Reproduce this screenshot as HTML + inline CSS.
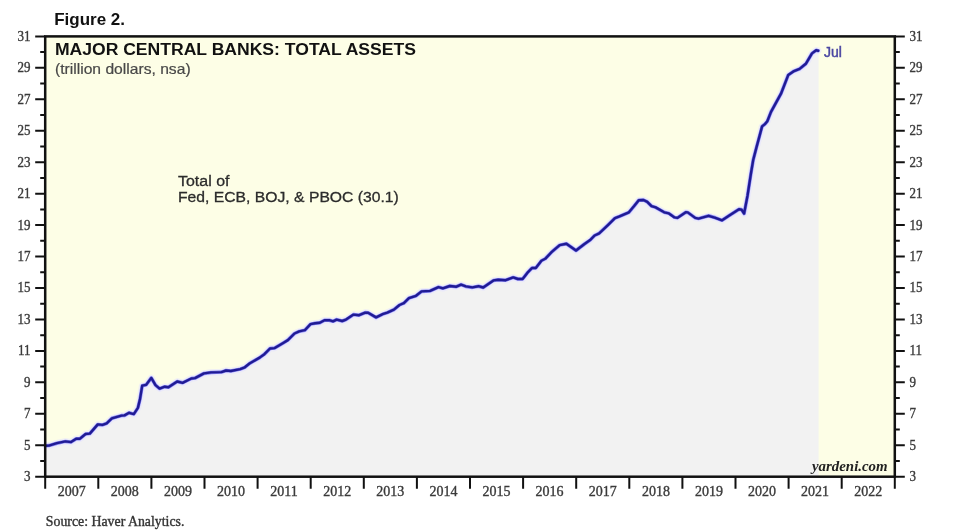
<!DOCTYPE html>
<html><head><meta charset="utf-8"><style>
html,body{margin:0;padding:0;background:#fff;width:960px;height:532px;overflow:hidden}
svg{display:block;filter:blur(0.65px)}
.sans{font-family:"Liberation Sans",sans-serif}
.serif{font-family:"Liberation Serif",serif}
</style></head><body>
<svg width="960" height="532" viewBox="0 0 960 532">
<rect x="0" y="0" width="960" height="532" fill="#fff"/>
<text class="sans" x="54.2" y="24.7" font-size="15.7" font-weight="bold" fill="#111" textLength="70.8" lengthAdjust="spacingAndGlyphs">Figure 2.</text>
<rect x="45.2" y="36.4" width="849.5999999999999" height="440.3" fill="#fdfee6"/>
<polygon points="45.2,476.7 45.2,445.8 45.6,445.8 48.9,445.6 56.9,443.2 65.4,441.4 71.0,442.1 76.2,438.7 80.0,438.7 85.6,434.0 89.8,433.6 97.8,424.4 102.5,424.9 106.7,423.3 111.9,418.3 121.4,415.6 124.5,415.4 129.1,412.8 133.8,414.1 137.9,407.9 140.0,399.1 142.2,385.7 146.2,384.8 151.3,377.9 155.5,385.2 159.6,388.6 164.8,386.7 168.4,387.2 177.2,381.5 182.6,382.8 191.3,378.5 195.0,378.1 204.0,373.4 211.0,372.4 221.4,372.1 226.1,370.5 230.8,371.0 240.2,369.1 244.8,367.3 249.5,363.5 260.0,357.4 264.4,354.2 270.0,348.5 274.7,348.1 283.2,342.9 287.9,340.1 294.5,333.5 299.2,331.4 304.8,330.2 310.5,324.1 315.2,323.2 319.8,322.7 324.5,320.2 329.2,320.2 333.0,321.3 336.6,319.6 342.2,321.0 346.0,319.6 353.5,314.6 359.1,315.2 365.2,312.6 368.1,312.7 376.1,317.4 382.6,314.2 387.3,312.6 393.9,309.7 399.5,305.0 403.8,303.2 408.9,298.2 416.0,295.8 421.6,291.4 430.1,290.9 438.5,287.1 442.8,288.3 449.8,286.0 456.4,286.7 461.1,284.6 465.8,286.4 472.4,287.4 478.5,286.2 483.2,287.5 493.5,280.4 498.2,279.7 505.7,280.2 513.2,277.4 517.9,279.0 522.6,279.0 527.3,272.9 532.0,268.0 535.8,268.0 541.4,260.7 545.2,258.8 551.8,251.9 559.7,245.1 566.4,243.8 576.0,250.5 584.5,244.0 590.1,240.1 594.6,235.5 599.2,233.3 608.2,224.8 615.0,218.1 619.5,216.4 628.9,212.3 634.1,206.1 638.8,200.2 643.5,200.0 647.3,201.9 651.5,206.1 655.7,207.4 664.2,212.3 668.9,213.4 674.5,217.4 677.3,217.9 685.8,212.3 687.7,212.4 695.2,217.9 698.5,218.6 708.6,215.8 715.4,217.8 722.1,220.3 728.9,215.8 739.0,209.3 741.5,209.6 744.1,213.6 747.5,195.8 750.9,173.8 753.2,160.0 756.4,147.6 759.7,135.4 762.1,126.4 764.9,124.1 767.3,121.3 771.0,111.9 781.0,93.7 788.2,75.1 793.4,71.4 799.6,68.9 805.8,63.8 812.0,53.4 816.1,50.3 818.2,50.7 818.6,50.7 818.6,476.7" fill="#f2f2f2"/>
<g fill="none" stroke-linejoin="round" stroke-linecap="round">
<polyline points="45.6,445.8 48.9,445.6 56.9,443.2 65.4,441.4 71.0,442.1 76.2,438.7 80.0,438.7 85.6,434.0 89.8,433.6 97.8,424.4 102.5,424.9 106.7,423.3 111.9,418.3 121.4,415.6 124.5,415.4 129.1,412.8 133.8,414.1 137.9,407.9 140.0,399.1 142.2,385.7 146.2,384.8 151.3,377.9 155.5,385.2 159.6,388.6 164.8,386.7 168.4,387.2 177.2,381.5 182.6,382.8 191.3,378.5 195.0,378.1 204.0,373.4 211.0,372.4 221.4,372.1 226.1,370.5 230.8,371.0 240.2,369.1 244.8,367.3 249.5,363.5 260.0,357.4 264.4,354.2 270.0,348.5 274.7,348.1 283.2,342.9 287.9,340.1 294.5,333.5 299.2,331.4 304.8,330.2 310.5,324.1 315.2,323.2 319.8,322.7 324.5,320.2 329.2,320.2 333.0,321.3 336.6,319.6 342.2,321.0 346.0,319.6 353.5,314.6 359.1,315.2 365.2,312.6 368.1,312.7 376.1,317.4 382.6,314.2 387.3,312.6 393.9,309.7 399.5,305.0 403.8,303.2 408.9,298.2 416.0,295.8 421.6,291.4 430.1,290.9 438.5,287.1 442.8,288.3 449.8,286.0 456.4,286.7 461.1,284.6 465.8,286.4 472.4,287.4 478.5,286.2 483.2,287.5 493.5,280.4 498.2,279.7 505.7,280.2 513.2,277.4 517.9,279.0 522.6,279.0 527.3,272.9 532.0,268.0 535.8,268.0 541.4,260.7 545.2,258.8 551.8,251.9 559.7,245.1 566.4,243.8 576.0,250.5 584.5,244.0 590.1,240.1 594.6,235.5 599.2,233.3 608.2,224.8 615.0,218.1 619.5,216.4 628.9,212.3 634.1,206.1 638.8,200.2 643.5,200.0 647.3,201.9 651.5,206.1 655.7,207.4 664.2,212.3 668.9,213.4 674.5,217.4 677.3,217.9 685.8,212.3 687.7,212.4 695.2,217.9 698.5,218.6 708.6,215.8 715.4,217.8 722.1,220.3 728.9,215.8 739.0,209.3 741.5,209.6 744.1,213.6 747.5,195.8 750.9,173.8 753.2,160.0 756.4,147.6 759.7,135.4 762.1,126.4 764.9,124.1 767.3,121.3 771.0,111.9 781.0,93.7 788.2,75.1 793.4,71.4 799.6,68.9 805.8,63.8 812.0,53.4 816.1,50.3 818.2,50.7" stroke="#e4e2ff" stroke-opacity="0.6" stroke-width="6.5"/>
<polyline points="45.6,445.8 48.9,445.6 56.9,443.2 65.4,441.4 71.0,442.1 76.2,438.7 80.0,438.7 85.6,434.0 89.8,433.6 97.8,424.4 102.5,424.9 106.7,423.3 111.9,418.3 121.4,415.6 124.5,415.4 129.1,412.8 133.8,414.1 137.9,407.9 140.0,399.1 142.2,385.7 146.2,384.8 151.3,377.9 155.5,385.2 159.6,388.6 164.8,386.7 168.4,387.2 177.2,381.5 182.6,382.8 191.3,378.5 195.0,378.1 204.0,373.4 211.0,372.4 221.4,372.1 226.1,370.5 230.8,371.0 240.2,369.1 244.8,367.3 249.5,363.5 260.0,357.4 264.4,354.2 270.0,348.5 274.7,348.1 283.2,342.9 287.9,340.1 294.5,333.5 299.2,331.4 304.8,330.2 310.5,324.1 315.2,323.2 319.8,322.7 324.5,320.2 329.2,320.2 333.0,321.3 336.6,319.6 342.2,321.0 346.0,319.6 353.5,314.6 359.1,315.2 365.2,312.6 368.1,312.7 376.1,317.4 382.6,314.2 387.3,312.6 393.9,309.7 399.5,305.0 403.8,303.2 408.9,298.2 416.0,295.8 421.6,291.4 430.1,290.9 438.5,287.1 442.8,288.3 449.8,286.0 456.4,286.7 461.1,284.6 465.8,286.4 472.4,287.4 478.5,286.2 483.2,287.5 493.5,280.4 498.2,279.7 505.7,280.2 513.2,277.4 517.9,279.0 522.6,279.0 527.3,272.9 532.0,268.0 535.8,268.0 541.4,260.7 545.2,258.8 551.8,251.9 559.7,245.1 566.4,243.8 576.0,250.5 584.5,244.0 590.1,240.1 594.6,235.5 599.2,233.3 608.2,224.8 615.0,218.1 619.5,216.4 628.9,212.3 634.1,206.1 638.8,200.2 643.5,200.0 647.3,201.9 651.5,206.1 655.7,207.4 664.2,212.3 668.9,213.4 674.5,217.4 677.3,217.9 685.8,212.3 687.7,212.4 695.2,217.9 698.5,218.6 708.6,215.8 715.4,217.8 722.1,220.3 728.9,215.8 739.0,209.3 741.5,209.6 744.1,213.6 747.5,195.8 750.9,173.8 753.2,160.0 756.4,147.6 759.7,135.4 762.1,126.4 764.9,124.1 767.3,121.3 771.0,111.9 781.0,93.7 788.2,75.1 793.4,71.4 799.6,68.9 805.8,63.8 812.0,53.4 816.1,50.3 818.2,50.7" stroke="#5a58f0" stroke-opacity="0.7" stroke-width="3.5"/>
<polyline points="45.6,445.8 48.9,445.6 56.9,443.2 65.4,441.4 71.0,442.1 76.2,438.7 80.0,438.7 85.6,434.0 89.8,433.6 97.8,424.4 102.5,424.9 106.7,423.3 111.9,418.3 121.4,415.6 124.5,415.4 129.1,412.8 133.8,414.1 137.9,407.9 140.0,399.1 142.2,385.7 146.2,384.8 151.3,377.9 155.5,385.2 159.6,388.6 164.8,386.7 168.4,387.2 177.2,381.5 182.6,382.8 191.3,378.5 195.0,378.1 204.0,373.4 211.0,372.4 221.4,372.1 226.1,370.5 230.8,371.0 240.2,369.1 244.8,367.3 249.5,363.5 260.0,357.4 264.4,354.2 270.0,348.5 274.7,348.1 283.2,342.9 287.9,340.1 294.5,333.5 299.2,331.4 304.8,330.2 310.5,324.1 315.2,323.2 319.8,322.7 324.5,320.2 329.2,320.2 333.0,321.3 336.6,319.6 342.2,321.0 346.0,319.6 353.5,314.6 359.1,315.2 365.2,312.6 368.1,312.7 376.1,317.4 382.6,314.2 387.3,312.6 393.9,309.7 399.5,305.0 403.8,303.2 408.9,298.2 416.0,295.8 421.6,291.4 430.1,290.9 438.5,287.1 442.8,288.3 449.8,286.0 456.4,286.7 461.1,284.6 465.8,286.4 472.4,287.4 478.5,286.2 483.2,287.5 493.5,280.4 498.2,279.7 505.7,280.2 513.2,277.4 517.9,279.0 522.6,279.0 527.3,272.9 532.0,268.0 535.8,268.0 541.4,260.7 545.2,258.8 551.8,251.9 559.7,245.1 566.4,243.8 576.0,250.5 584.5,244.0 590.1,240.1 594.6,235.5 599.2,233.3 608.2,224.8 615.0,218.1 619.5,216.4 628.9,212.3 634.1,206.1 638.8,200.2 643.5,200.0 647.3,201.9 651.5,206.1 655.7,207.4 664.2,212.3 668.9,213.4 674.5,217.4 677.3,217.9 685.8,212.3 687.7,212.4 695.2,217.9 698.5,218.6 708.6,215.8 715.4,217.8 722.1,220.3 728.9,215.8 739.0,209.3 741.5,209.6 744.1,213.6 747.5,195.8 750.9,173.8 753.2,160.0 756.4,147.6 759.7,135.4 762.1,126.4 764.9,124.1 767.3,121.3 771.0,111.9 781.0,93.7 788.2,75.1 793.4,71.4 799.6,68.9 805.8,63.8 812.0,53.4 816.1,50.3 818.2,50.7" stroke="#201b94" stroke-width="2.4"/>
</g>
<text class="sans" x="54.9" y="55.3" font-size="16" font-weight="bold" fill="#111" textLength="361" lengthAdjust="spacingAndGlyphs">MAJOR CENTRAL BANKS: TOTAL ASSETS</text>
<text class="sans" x="55" y="74" font-size="14.4" fill="#484848" stroke="#484848" stroke-width="0.2" textLength="135.6" lengthAdjust="spacingAndGlyphs">(trillion dollars, nsa)</text>
<text class="sans" x="178" y="186" font-size="15.3" fill="#2c2c2c" stroke="#2c2c2c" stroke-width="0.3" textLength="51.5" lengthAdjust="spacingAndGlyphs">Total of</text>
<text class="sans" x="178" y="201.8" font-size="15.3" fill="#2c2c2c" stroke="#2c2c2c" stroke-width="0.3" textLength="220.8" lengthAdjust="spacingAndGlyphs">Fed, ECB, BOJ, &amp; PBOC (30.1)</text>
<text class="sans" x="824" y="56.6" font-size="14" fill="#4a46a2" stroke="#4a46a2" stroke-width="0.45">Jul</text>
<text class="serif" x="812" y="470.6" font-size="14" font-style="italic" font-weight="bold" fill="#222" textLength="75.6" lengthAdjust="spacingAndGlyphs">yardeni.com</text>
<rect x="45.2" y="36.4" width="849.5999999999999" height="440.3" fill="none" stroke="#111" stroke-width="2.5"/>
<path d="M35.2 476.70H45.2M894.8 476.70H904.8M40.2 460.97H45.2M894.8 460.97H899.8M35.2 445.25H45.2M894.8 445.25H904.8M40.2 429.52H45.2M894.8 429.52H899.8M35.2 413.80H45.2M894.8 413.80H904.8M40.2 398.07H45.2M894.8 398.07H899.8M35.2 382.35H45.2M894.8 382.35H904.8M40.2 366.62H45.2M894.8 366.62H899.8M35.2 350.90H45.2M894.8 350.90H904.8M40.2 335.18H45.2M894.8 335.18H899.8M35.2 319.45H45.2M894.8 319.45H904.8M40.2 303.72H45.2M894.8 303.72H899.8M35.2 288.00H45.2M894.8 288.00H904.8M40.2 272.27H45.2M894.8 272.27H899.8M35.2 256.55H45.2M894.8 256.55H904.8M40.2 240.83H45.2M894.8 240.83H899.8M35.2 225.10H45.2M894.8 225.10H904.8M40.2 209.38H45.2M894.8 209.38H899.8M35.2 193.65H45.2M894.8 193.65H904.8M40.2 177.93H45.2M894.8 177.93H899.8M35.2 162.20H45.2M894.8 162.20H904.8M40.2 146.47H45.2M894.8 146.47H899.8M35.2 130.75H45.2M894.8 130.75H904.8M40.2 115.03H45.2M894.8 115.03H899.8M35.2 99.30H45.2M894.8 99.30H904.8M40.2 83.58H45.2M894.8 83.58H899.8M35.2 67.85H45.2M894.8 67.85H904.8M40.2 52.12H45.2M894.8 52.12H899.8M35.2 36.40H45.2M894.8 36.40H904.8M45.20 476.7V488.7M98.30 476.7V488.7M151.40 476.7V488.7M204.50 476.7V488.7M257.60 476.7V488.7M310.70 476.7V488.7M363.80 476.7V488.7M416.90 476.7V488.7M470.00 476.7V488.7M523.10 476.7V488.7M576.20 476.7V488.7M629.30 476.7V488.7M682.40 476.7V488.7M735.50 476.7V488.7M788.60 476.7V488.7M841.70 476.7V488.7M894.80 476.7V488.7" stroke="#111" stroke-width="2" fill="none"/>
<g class="serif" font-size="14" fill="#3a3a3a" stroke="#3a3a3a" stroke-width="0.35">
<text transform="translate(30.4 481.1) scale(0.93 1)" text-anchor="end" font-size="14">3</text><text transform="translate(909.6 481.1) scale(0.93 1)" font-size="14">3</text><text transform="translate(30.4 449.6) scale(0.93 1)" text-anchor="end" font-size="14">5</text><text transform="translate(909.6 449.6) scale(0.93 1)" font-size="14">5</text><text transform="translate(30.4 418.2) scale(0.93 1)" text-anchor="end" font-size="14">7</text><text transform="translate(909.6 418.2) scale(0.93 1)" font-size="14">7</text><text transform="translate(30.4 386.7) scale(0.93 1)" text-anchor="end" font-size="14">9</text><text transform="translate(909.6 386.7) scale(0.93 1)" font-size="14">9</text><text transform="translate(30.4 355.3) scale(0.93 1)" text-anchor="end" font-size="14">11</text><text transform="translate(909.6 355.3) scale(0.93 1)" font-size="14">11</text><text transform="translate(30.4 323.8) scale(0.93 1)" text-anchor="end" font-size="14">13</text><text transform="translate(909.6 323.8) scale(0.93 1)" font-size="14">13</text><text transform="translate(30.4 292.4) scale(0.93 1)" text-anchor="end" font-size="14">15</text><text transform="translate(909.6 292.4) scale(0.93 1)" font-size="14">15</text><text transform="translate(30.4 260.9) scale(0.93 1)" text-anchor="end" font-size="14">17</text><text transform="translate(909.6 260.9) scale(0.93 1)" font-size="14">17</text><text transform="translate(30.4 229.5) scale(0.93 1)" text-anchor="end" font-size="14">19</text><text transform="translate(909.6 229.5) scale(0.93 1)" font-size="14">19</text><text transform="translate(30.4 198.1) scale(0.93 1)" text-anchor="end" font-size="14">21</text><text transform="translate(909.6 198.1) scale(0.93 1)" font-size="14">21</text><text transform="translate(30.4 166.6) scale(0.93 1)" text-anchor="end" font-size="14">23</text><text transform="translate(909.6 166.6) scale(0.93 1)" font-size="14">23</text><text transform="translate(30.4 135.2) scale(0.93 1)" text-anchor="end" font-size="14">25</text><text transform="translate(909.6 135.2) scale(0.93 1)" font-size="14">25</text><text transform="translate(30.4 103.7) scale(0.93 1)" text-anchor="end" font-size="14">27</text><text transform="translate(909.6 103.7) scale(0.93 1)" font-size="14">27</text><text transform="translate(30.4 72.2) scale(0.93 1)" text-anchor="end" font-size="14">29</text><text transform="translate(909.6 72.2) scale(0.93 1)" font-size="14">29</text><text transform="translate(30.4 40.8) scale(0.93 1)" text-anchor="end" font-size="14">31</text><text transform="translate(909.6 40.8) scale(0.93 1)" font-size="14">31</text>
<text x="71.8" y="495.5" text-anchor="middle">2007</text><text x="124.8" y="495.5" text-anchor="middle">2008</text><text x="177.9" y="495.5" text-anchor="middle">2009</text><text x="231.0" y="495.5" text-anchor="middle">2010</text><text x="284.1" y="495.5" text-anchor="middle">2011</text><text x="337.2" y="495.5" text-anchor="middle">2012</text><text x="390.3" y="495.5" text-anchor="middle">2013</text><text x="443.4" y="495.5" text-anchor="middle">2014</text><text x="496.5" y="495.5" text-anchor="middle">2015</text><text x="549.6" y="495.5" text-anchor="middle">2016</text><text x="602.8" y="495.5" text-anchor="middle">2017</text><text x="655.9" y="495.5" text-anchor="middle">2018</text><text x="708.9" y="495.5" text-anchor="middle">2019</text><text x="762.0" y="495.5" text-anchor="middle">2020</text><text x="815.1" y="495.5" text-anchor="middle">2021</text><text x="868.2" y="495.5" text-anchor="middle">2022</text>
</g>
<text class="serif" x="45.8" y="525.7" font-size="14" fill="#333" stroke="#333" stroke-width="0.35" textLength="138.6" lengthAdjust="spacingAndGlyphs">Source: Haver Analytics.</text>
</svg>
</body></html>
